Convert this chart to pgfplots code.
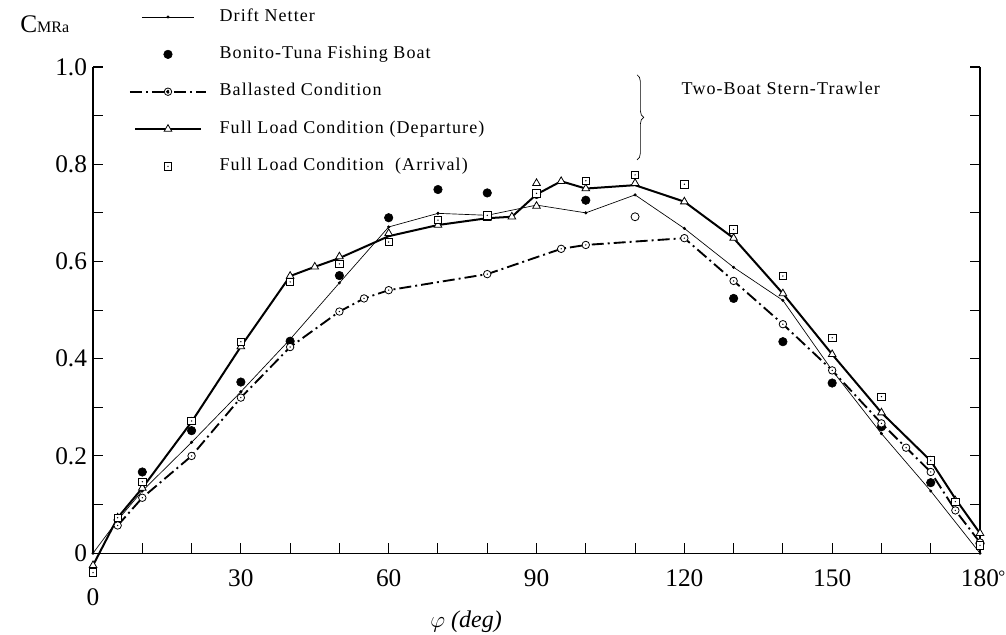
\documentclass[border=0pt]{standalone}
\usepackage{fontspec}
\setmainfont{Liberation Serif}
\newfontfamily\legfont[LetterSpace=6]{Liberation Serif}
\usepackage{pgfplots}
\pgfplotsset{compat=1.18}
\usetikzlibrary{decorations.pathreplacing}

% open circle with a centre dot
\pgfdeclareplotmark{odot}{%
  \pgfsetfillcolor{white}%
  \pgfpathcircle{\pgfpointorigin}{\pgfplotmarksize}%
  \pgfusepathqfillstroke
  \pgfsetfillcolor{black}%
  \pgfpathcircle{\pgfpointorigin}{0.55pt}%
  \pgfusepathqfill}
% open square with a centre dot
\pgfdeclareplotmark{sqdot}{%
  \pgfsetfillcolor{white}%
  \pgfpathrectangle{\pgfpoint{-\pgfplotmarksize}{-\pgfplotmarksize}}{\pgfpoint{2\pgfplotmarksize}{2\pgfplotmarksize}}%
  \pgfusepathqfillstroke
  \pgfsetfillcolor{black}%
  \pgfpathcircle{\pgfpointorigin}{0.55pt}%
  \pgfusepathqfill}

\begin{document}
\begin{tikzpicture}
\begin{axis}[
  at={(0,0)}, anchor=south west,
  scale only axis, width=665pt, height=364.5pt,
  xmin=0, xmax=180, ymin=0, ymax=1,
  clip=false,
  axis line style={draw=none},
  xtick={0,30,60,90,120,150,180},
  minor xtick={10,20,40,50,70,80,100,110,130,140,160,170},
  xticklabels={\raisebox{-14pt}[\height][\depth]{0},30,60,90,120,150,
    180\rlap{\kern-0.5pt\raisebox{3pt}{\fontsize{13}{13}\selectfont°}}},
  ytick={0,0.2,0.4,0.6,0.8,1},
  minor ytick={0.1,0.3,0.5,0.7,0.9},
  yticklabels={0,0.2,0.4,0.6,0.8,1.0},
  xtick pos=left, ytick pos=both,
  tick align=inside,
  major tick length=7.5pt, minor tick length=7.5pt,
  every tick/.append style={black, line width=0.8pt},
  tick label style={font=\fontsize{19}{19}\selectfont},
  xticklabel style={yshift=-9pt},
  yticklabel style={xshift=-1pt},
  legend cell align=left,
  legend style={at={(0.0406,1.1193)}, anchor=north west, draw=none, fill=none,
    inner sep=0pt, outer sep=0pt, row sep=16pt, column sep=9.5pt,
    font=\legfont\fontsize{13.5}{15}\selectfont,
    nodes={inner sep=0pt, text height=9pt, text depth=3pt}},
]

% frame: left, bottom and right sides
\draw[line width=1pt] (rel axis cs:0,1) -- (rel axis cs:0,0) -- (rel axis cs:1,0) -- (rel axis cs:1,1);

% Drift Netter
\addplot[line width=0.5pt, mark=*, mark size=0.9pt,
  legend image code/.code={
    \draw[line width=0.5pt] (-19.5pt,0pt) -- (19.5pt,0pt);
    \fill (0pt,0pt) circle (0.9pt);}]
  coordinates {(0,0) (5,0.068) (10,0.128) (20,0.228) (30,0.332) (40,0.44)
    (50,0.556) (60,0.671) (70,0.699) (80,0.695) (90,0.716) (100,0.700)
    (110,0.737) (120,0.668) (130,0.588) (140,0.520) (150,0.376) (160,0.246)
    (170,0.128) (180,0)};
\addlegendentry{Drift Netter}

% Bonito-Tuna Fishing Boat
\addplot[only marks, mark=*, mark size=3.2pt,
  legend image code/.code={\fill (0pt,0pt) circle (3.2pt);}]
  coordinates {(10,0.167) (20,0.252) (30,0.352) (40,0.436) (50,0.571)
    (60,0.690) (70,0.748) (80,0.741) (90,0.738) (100,0.726) (130,0.524)
    (140,0.435) (150,0.350) (160,0.260) (170,0.145) (180,0.02)};
\addlegendentry{Bonito-Tuna Fishing Boat}

% Ballasted condition
\addplot[line width=1.4pt, dash pattern=on 9pt off 3pt on 1.5pt off 3pt,
  mark=odot, mark size=2.8pt, mark options={solid, line width=0.6pt},
  legend image code/.code={
    \draw[line width=1.4pt, dash pattern=on 9pt off 3pt on 1.5pt off 3pt] (-28.5pt,0pt) -- (28.5pt,0pt);
    \draw[line width=0.6pt, solid, fill=white] (0pt,0pt) circle (2.8pt);
    \fill (0pt,0pt) circle (0.55pt);}]
  coordinates {(5,0.057) (10,0.114) (20,0.200) (30,0.320) (40,0.424)
    (50,0.497) (55,0.524) (60,0.541) (80,0.574) (95,0.626) (100,0.634)
    (120,0.648) (130,0.560) (140,0.471) (150,0.376) (160,0.267) (165,0.217)
    (170,0.167) (175,0.088) (180,0.022)};
\addlegendentry{Ballasted Condition}

% Full load condition (departure): faired line
\addplot[line width=1.5pt, no marks,
  legend image code/.code={
    \draw[line width=1.5pt] (-24.5pt,0pt) -- (24.5pt,0pt);
    \path[line width=0.6pt, mark=triangle*, mark size=3.3pt, mark options={fill=white, solid}]
      plot coordinates {(0pt,0pt)};}]
  coordinates {(0,-0.025) (5,0.073) (10,0.134) (20,0.270) (30,0.425)
    (40,0.570) (45,0.589) (50,0.607) (60,0.652) (70,0.675) (80,0.689)
    (85,0.692) (90,0.738) (95,0.765) (100,0.750) (110,0.757) (120,0.723)
    (130,0.648) (140,0.534) (150,0.409) (160,0.289) (170,0.190) (175,0.112)
    (180,0.041)};
\addlegendentry{Full Load Condition (Departure)}

% Full load condition (departure): measured points
\addplot[forget plot, only marks, mark=triangle*, mark size=3.3pt,
  mark options={fill=white, line width=0.6pt}]
  coordinates {(0,-0.025) (5,0.073) (10,0.134) (20,0.270) (30,0.425)
    (40,0.570) (45,0.589) (50,0.610) (60,0.658) (70,0.675) (80,0.689)
    (85,0.692) (90,0.714) (90,0.761) (95,0.765) (100,0.750) (110,0.761)
    (120,0.723) (130,0.648) (140,0.534) (150,0.409) (160,0.289) (170,0.19)
    (175,0.108) (180,0.041)};

% Full load condition (arrival)
\addplot[only marks, mark=sqdot, mark size=2.8pt, mark options={line width=0.6pt},
  legend image code/.code={
    \path[line width=0.6pt, mark=sqdot, mark size=2.8pt] plot coordinates {(0pt,0pt)};}]
  coordinates {(0,-0.040) (5,0.073) (10,0.147) (20,0.272) (30,0.435)
    (40,0.558) (50,0.595) (60,0.640) (70,0.685) (80,0.695) (90,0.740)
    (100,0.766) (110,0.778) (120,0.759) (130,0.666) (140,0.570) (150,0.443)
    (160,0.322) (170,0.191) (175,0.106) (180,0.016)};
\addlegendentry{Full Load Condition~~(Arrival)}

% isolated open point
\addplot[forget plot, only marks, mark=o, mark size=3pt, mark options={line width=0.6pt, fill=white}]
  coordinates {(110,0.692)};

% stern-trawler group note
\draw[decorate, decoration={brace, amplitude=5pt}, line width=0.5pt]
  (axis cs:110.4,0.984) -- (axis cs:110.4,0.809);
\node[anchor=west, font=\legfont\fontsize{13.5}{15}\selectfont] at (axis cs:118.5,0.957) {Two-Boat Stern-Trawler};

% axis titles
\node[anchor=west, inner sep=0pt] at (axis description cs:-0.0823,1.0885)
  {\fontsize{19}{19}\selectfont C\fontsize{12}{12}\selectfont MRa};
\node[font=\fontsize{18}{18}\selectfont] at (axis cs:75.7,-0.142) {$\varphi$ \textit{(deg)}};
\end{axis}
\pgfresetboundingbox
\path[use as bounding box] (-69.75pt,-60.75pt) rectangle (684.5pt,414.75pt);
\end{tikzpicture}
\end{document}
